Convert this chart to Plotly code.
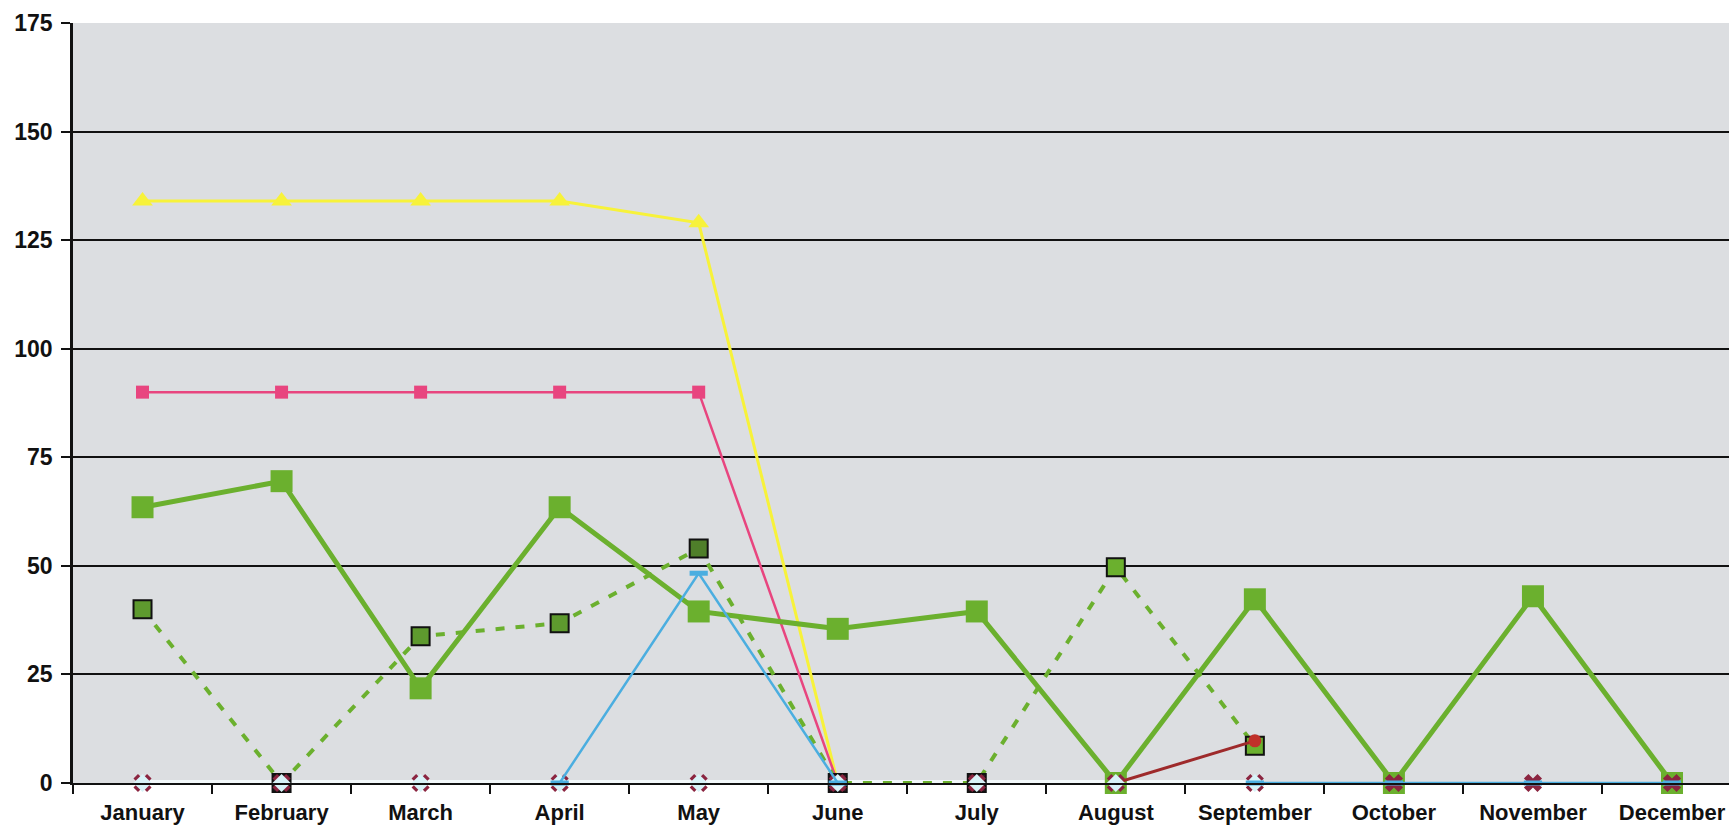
import plotly.graph_objects as go

months = ["January", "February", "March", "April", "May", "June", "July",
          "August", "September", "October", "November", "December"]

yellow_vals = [134, 134, 134, 134, 129, 0, None, None, None, None, None, None]
pink_vals = [90, 90, 90, 90, 90, 0, None, None, None, None, None, None]
green_vals = [63.5, 69.5, 21.8, 63.5, 39.5, 35.5, 39.5, 0, 42.3, 0, 43, 0]
dashed_vals = [40, 0, 33.8, 36.8, 54, 0, 0, 49.7, 8.6, None, None, None]
blue_vals = [None, None, None, 0, 48.3, 0, None, None, 0, 0, 0, 0]
red_vals = [None, None, None, None, None, None, None, 0, 9.7, None, None, None]
cross_vals = [0] * 12
diamond_vals = [0, 0, 0, 0, 0, 0, 0, 0, 0, None, None, None]

dashed_marker_colors = ["#5E9A2E", "#1E1A1C", "#5E9A2E", "#5E9A2E", "#4F7F2A",
                        "#3A1A25", "#3A1A25", "#6BB02E", "#6BB02E", "#5E9A2E",
                        "#5E9A2E", "#5E9A2E"]

fig = go.Figure()

# whitish line along zero (covers axis line)
fig.add_trace(go.Scatter(x=months, y=diamond_vals, mode="lines",
                         line=dict(color="#F2F8FA", width=6), cliponaxis=False,
                         hoverinfo="skip"))
fig.add_trace(go.Scatter(x=months, y=yellow_vals, mode="lines+markers",
                         line=dict(color="#F7F23A", width=3),
                         marker=dict(symbol="triangle-up", size=18, color="#F7F23A"),
                         cliponaxis=False))
fig.add_trace(go.Scatter(x=months, y=pink_vals, mode="lines+markers",
                         line=dict(color="#E8457F", width=2.5),
                         marker=dict(symbol="square", size=13, color="#E8457F"),
                         cliponaxis=False))
fig.add_trace(go.Scatter(x=months, y=green_vals, mode="lines+markers",
                         line=dict(color="#6BB02E", width=5),
                         marker=dict(symbol="square", size=22, color="#6BB02E"),
                         cliponaxis=False))
fig.add_trace(go.Scatter(x=months, y=dashed_vals, mode="lines+markers",
                         line=dict(color="#6BB02E", width=4, dash="9px,11px"),
                         marker=dict(symbol="square", size=18, color=dashed_marker_colors,
                                     line=dict(color="#111111", width=2)),
                         cliponaxis=False))
fig.add_trace(go.Scatter(x=months, y=red_vals, mode="lines+markers",
                         line=dict(color="#9E2A2B", width=3),
                         marker=dict(symbol="circle", size=13, color="#C0302A"),
                         cliponaxis=False))
fig.add_trace(go.Scatter(x=months, y=cross_vals, mode="markers",
                         marker=dict(symbol="x", size=16, color="#8B2540"),
                         cliponaxis=False))
fig.add_trace(go.Scatter(x=months, y=diamond_vals, mode="markers",
                         marker=dict(symbol="diamond", size=14, color="#D8F3F8"),
                         cliponaxis=False))
fig.add_trace(go.Scatter(x=months, y=blue_vals, mode="lines+markers",
                         line=dict(color="#4BAEE0", width=2.5),
                         marker=dict(symbol="line-ew-open", size=13,
                                     line=dict(color="#3D8FE0", width=5)),
                         cliponaxis=False))

fig.update_layout(
    width=1729, height=825,
    margin=dict(l=73, r=0, t=23, b=42),
    paper_bgcolor="white",
    plot_bgcolor="#DCDEE1",
    showlegend=False,
    font=dict(family="Liberation Sans, Arial, sans-serif", color="#111111"),
)
fig.update_xaxes(
    type="category", range=[-0.5, 11.41],
    showgrid=False, zeroline=False,
    showline=True, linecolor="#111111", linewidth=2,
    ticks="outside", tickson="boundaries", ticklen=9, tickwidth=2, tickcolor="#111111",
    tickfont=dict(size=22, family="Liberation Sans, Arial, sans-serif", weight="bold"),
    ticklabelstandoff=9,
)
fig.update_yaxes(
    range=[0, 175], dtick=25, tick0=0,
    showgrid=True, gridcolor="#111111", gridwidth=2,
    zeroline=False,
    showline=True, linecolor="#111111", linewidth=2.5,
    ticks="outside", ticklen=9, tickwidth=2, tickcolor="#111111",
    tickfont=dict(size=23, family="Liberation Sans, Arial, sans-serif", weight="bold"),
    ticklabelstandoff=4,
)

fig.write_html("out.html", config={"displayModeBar": False},
               post_script="document.body.style.margin='0px';document.body.style.overflow='hidden';")
